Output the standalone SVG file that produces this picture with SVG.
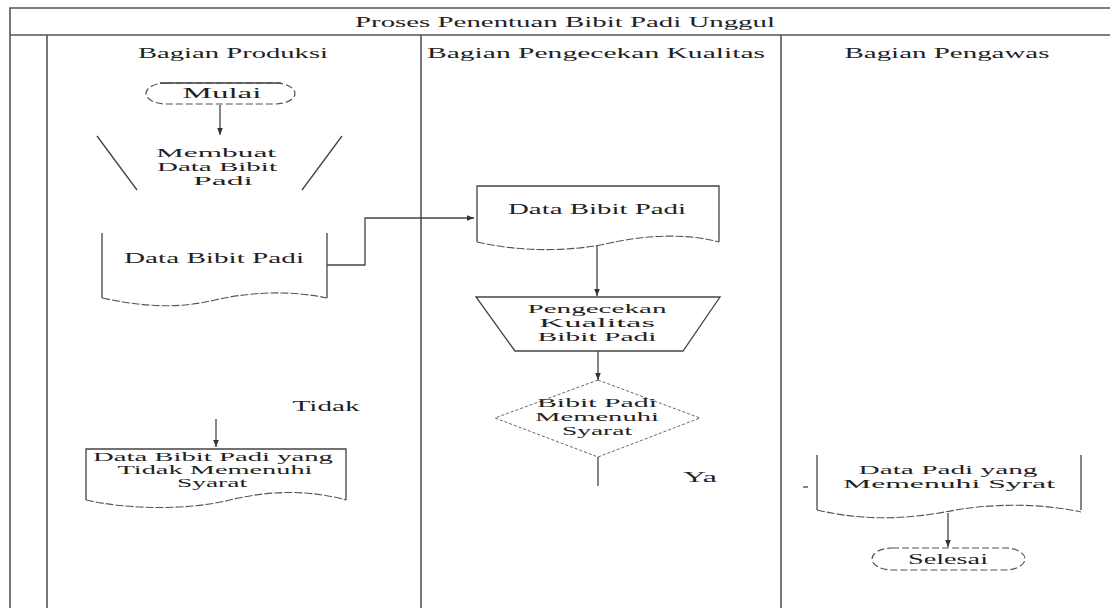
<svg xmlns="http://www.w3.org/2000/svg" width="1110" height="608" viewBox="0 0 1110 608">
<defs>
<style>
.frame{fill:none;stroke:#555;stroke-width:1.6}
.shape{fill:none;stroke:#444;stroke-width:1.3}
.dash{fill:none;stroke:#666;stroke-width:1;stroke-dasharray:3 2}
.wave{fill:none;stroke:#555;stroke-width:1.1;stroke-dasharray:8 2}
.term{fill:none;stroke:#555;stroke-width:1.2;stroke-dasharray:7 3}
.conn{fill:none;stroke:#444;stroke-width:1.3}
text{font-family:"Liberation Serif","Times New Roman",serif;font-size:14px;fill:#222;text-anchor:middle}
text.ml{font-size:12px}
</style>
<marker id="arr" viewBox="0 0 10 10" refX="10" refY="5" markerWidth="7" markerHeight="7" orient="auto" markerUnits="userSpaceOnUse">
<path d="M0,1 L10,5 L0,9 z" fill="#333"/>
</marker>
</defs>
<rect width="1110" height="608" fill="#fff"/>
<g id="pool">
<path class="frame" d="M10,608 V8 H1110 M10,35 H1110 M47,35 V608 M421,35 V608 M781,35 V608"/>
<text x="565" y="27" textLength="420" lengthAdjust="spacingAndGlyphs">Proses Penentuan Bibit Padi Unggul</text>
<text x="233" y="58" textLength="190" lengthAdjust="spacingAndGlyphs">Bagian Produksi</text>
<text x="596" y="58" textLength="338" lengthAdjust="spacingAndGlyphs">Bagian Pengecekan Kualitas</text>
<text x="947" y="58" textLength="205" lengthAdjust="spacingAndGlyphs">Bagian Pengawas</text>
</g>
<g id="mulai">
<rect class="term" x="146" y="83" width="149" height="21" rx="20" ry="10.5"/>
<path class="shape" d="M160,83 H281"/>
<text x="222" y="98" textLength="79" lengthAdjust="spacingAndGlyphs">Mulai</text>
</g>
<g id="membuat">
<path class="shape" d="M97,136 L137,190 M342,136 L302,190"/>
<text class="ml" x="216" y="157" textLength="120" lengthAdjust="spacingAndGlyphs">Membuat</text>
<text class="ml" x="217" y="171" textLength="120" lengthAdjust="spacingAndGlyphs">Data Bibit</text>
<text class="ml" x="223" y="185" textLength="60" lengthAdjust="spacingAndGlyphs">Padi</text>
</g>
<g id="doc-produksi">
<path class="shape" d="M102,233 V298"/>
<path class="shape" d="M327,233 V298"/>
<path class="wave" d="M102,298 C150,308 180,308 215,300 C250,292 290,290 327,298"/>
<text x="214" y="263" textLength="180" lengthAdjust="spacingAndGlyphs">Data Bibit Padi</text>
</g>
<g id="doc-tidak">
<path class="shape" d="M86,500 V449 H346 V500"/>
<path class="wave" d="M86,500 C130,510 190,510 230,500 C270,490 310,490 346,500"/>
<text class="ml" x="213" y="461" textLength="240" lengthAdjust="spacingAndGlyphs">Data Bibit Padi yang</text>
<text class="ml" x="215" y="474" textLength="195" lengthAdjust="spacingAndGlyphs">Tidak Memenuhi</text>
<text class="ml" x="212" y="487" textLength="70" lengthAdjust="spacingAndGlyphs">Syarat</text>
</g>
<g id="doc-kualitas">
<path class="shape" d="M477,242 V186 H719 V242"/>
<path class="wave" d="M477,242 C520,252 570,252 610,243 C650,234 690,234 719,242"/>
<text x="597" y="214" textLength="178" lengthAdjust="spacingAndGlyphs">Data Bibit Padi</text>
</g>
<g id="pengecekan">
<path class="shape" d="M476,297 H720 L683,351 H515 Z"/>
<text class="ml" x="597" y="313" textLength="139" lengthAdjust="spacingAndGlyphs">Pengecekan</text>
<text class="ml" x="597" y="327" textLength="116" lengthAdjust="spacingAndGlyphs">Kualitas</text>
<text class="ml" x="597" y="341" textLength="119" lengthAdjust="spacingAndGlyphs">Bibit Padi</text>
</g>
<g id="keputusan">
<path class="dash" d="M598,380 L700,418 L598,457 L495,418 Z"/>
<text class="ml" x="597" y="407" textLength="120" lengthAdjust="spacingAndGlyphs">Bibit Padi</text>
<text class="ml" x="597" y="421" textLength="124" lengthAdjust="spacingAndGlyphs">Memenuhi</text>
<text class="ml" x="597" y="435" textLength="70" lengthAdjust="spacingAndGlyphs">Syarat</text>
</g>
<g id="doc-memenuhi">
<path class="shape" d="M817,455 V510"/>
<path class="shape" d="M1081,455 V510"/>
<path class="wave" d="M817,510 C860,520 900,520 945,512 C990,503 1040,503 1081,512"/>
<text class="ml" x="948" y="474" textLength="179" lengthAdjust="spacingAndGlyphs">Data Padi yang</text>
<text class="ml" x="949" y="488" textLength="212" lengthAdjust="spacingAndGlyphs">Memenuhi Syrat</text>
</g>
<g id="selesai">
<rect class="term" x="872" y="548" width="153" height="22" rx="20" ry="11"/>
<text x="948" y="564" textLength="80" lengthAdjust="spacingAndGlyphs">Selesai</text>
</g>
<g id="labels">
<text x="326" y="411" textLength="67" lengthAdjust="spacingAndGlyphs">Tidak</text>
<text x="700" y="482" textLength="34" lengthAdjust="spacingAndGlyphs">Ya</text>
</g>
<g id="connectors">
<path class="conn" d="M220,105 V135" marker-end="url(#arr)"/>
<path class="conn" d="M327,265 H365 V218 H474" marker-end="url(#arr)"/>
<path class="conn" d="M597,245 V296" marker-end="url(#arr)"/>
<path class="conn" d="M598,351 V380" marker-end="url(#arr)"/>
<path class="conn" d="M598,457 V486"/>
<path class="conn" d="M216,419 V447" marker-end="url(#arr)"/>
<path class="conn" d="M803,487 H808"/>
<path class="conn" d="M948,513 V547" marker-end="url(#arr)"/>
</g>
</svg>
